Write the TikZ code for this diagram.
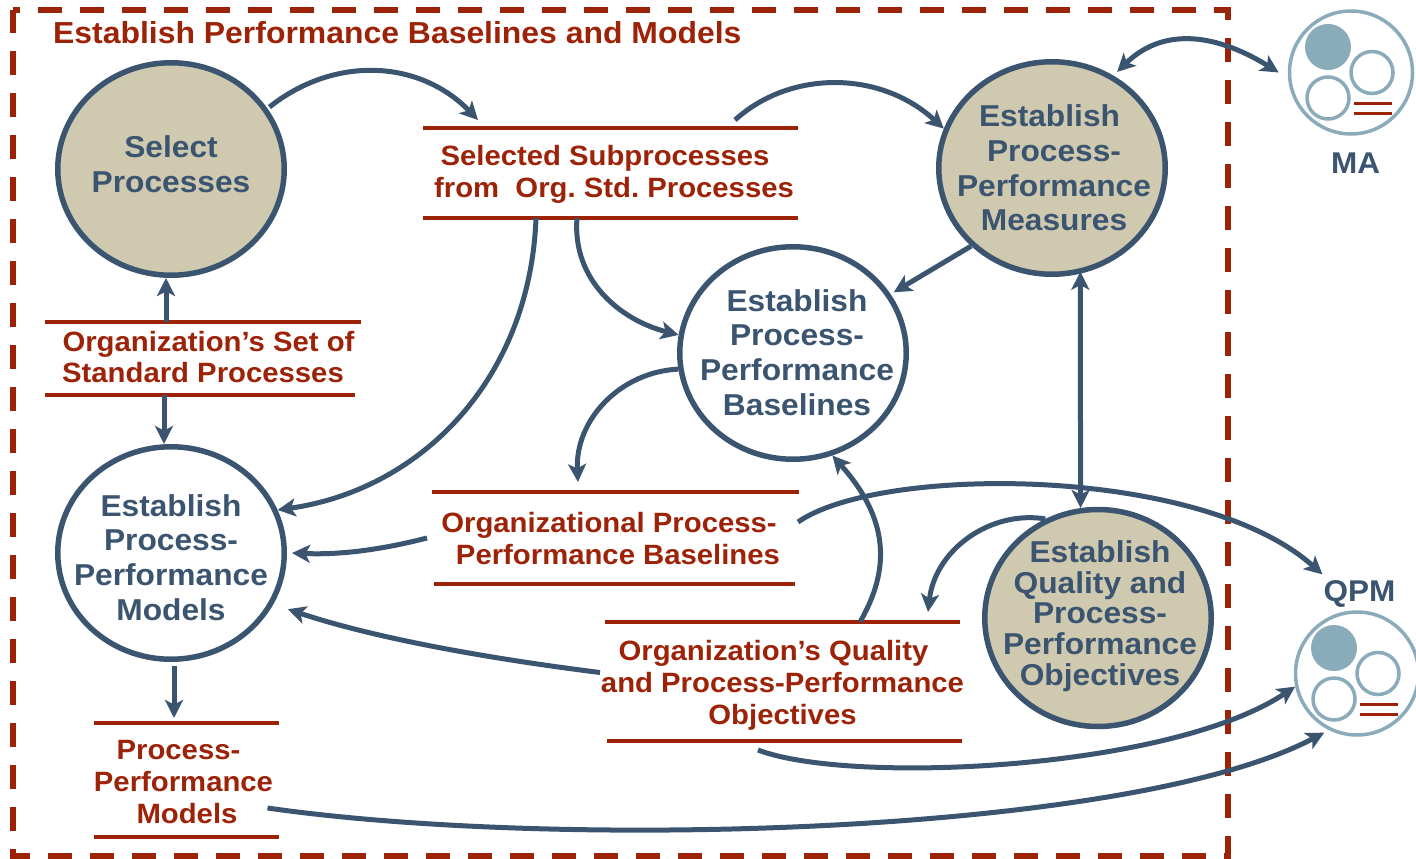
\documentclass[tikz,border=0pt]{standalone}
\usepackage{fontspec}
\setmainfont[FakeStretch=1.05]{Liberation Sans}
\usetikzlibrary{arrows.meta,shapes.geometric}
\definecolor{brick}{HTML}{9C2208}
\definecolor{slate}{HTML}{3B5570}
\definecolor{tan}{HTML}{CFC9AF}
\definecolor{pale}{HTML}{8AACBA}
\tikzset{
  x=1pt,y=-1pt,
  frameline/.style={brick,line width=6pt,dash pattern=on 24pt off 18pt,dash phase=17pt},
  bar/.style={brick,line width=4.5pt},
  rule/.style={brick,line width=3pt},
  flow/.style={slate,line width=5pt,-{Stealth[length=18pt,width=18pt,inset=4.5pt]}},
  twoway/.style={slate,line width=5pt,{Stealth[length=18pt,width=18pt,inset=4.5pt]}-{Stealth[length=18pt,width=18pt,inset=4.5pt]}},
  proc/.style={ellipse,draw=slate,line width=5.5pt,inner sep=0pt,minimum width=226.5pt,minimum height=212.5pt},
  done/.style={proc,fill=tan},
  open/.style={proc,fill=white},
  storebox/.style={rectangle,inner sep=0pt,outer sep=0pt},
  storetext/.style={brick,align=center,inner sep=0pt,font=\bfseries\frenchspacing\fontsize{27.9}{32}\selectfont},
  proctext/.style={slate,align=center,inner sep=0pt,font=\bfseries\fontsize{30.2}{34.7}\selectfont},
  big/.style={circle,draw=pale,line width=3.5pt,fill=white,inner sep=0pt,minimum size=123pt},
  small/.style={circle,draw=pale,line width=3.5pt,inner sep=0pt,minimum size=42pt},
  smallfull/.style={circle,fill=pale,inner sep=0pt,minimum size=46pt},
}
\begin{document}
\begin{tikzpicture}
\useasboundingbox (0,0) rectangle (1416,859);
% dashed frame
\coordinate (fa) at (13,10);
\coordinate (fb) at (1228,10);
\coordinate (fc) at (1228,856);
\coordinate (fd) at (13,856);
\draw[frameline] (fa) -- (fb) -- (fc) -- (fd) -- (fa);
\node[brick,anchor=base west,inner sep=0pt,font=\bfseries\fontsize{30.4}{36}\selectfont] (title) at (53,44) {Establish Performance Baselines and Models};

% process circles
\node[done] (select) at (171,169) {};
\node[proctext] (selectt) at (171,164.5) {Select\\Processes};
\node[done] (measures) at (1052,168) {};
\node[proctext] (measurest) at (1054,168) {Establish\hspace*{9pt}\\Process-\hspace*{15pt}\\Performance\\Measures};
\node[open] (baselines) at (793,353) {};
\node[proctext] (baselinest) at (797,352.5) {Establish\\Process-\\Performance\\Baselines};
\node[open] (models) at (171,553) {};
\node[proctext] (modelst) at (171,557.5) {Establish\\Process-\\Performance\\Models};
\node[done,minimum height=217pt] (objectives) at (1098,618) {};
\node[proctext,font=\bfseries\fontsize{30.2}{30.7}\selectfont] (objectivest) at (1100,616) {Establish\\Quality and\\Process-\\Performance\\Objectives};

% stores
\node[storebox,minimum width=375pt,minimum height=90pt] (sel) at (610.5,173) {};
\node[storetext] (selt) at (614,174) {Selected Subprocesses\hspace*{18pt}\\from\ \ Org. Std. Processes};
\node[storebox,minimum width=313pt,minimum height=73pt] (org) at (201.5,358.5) {};
\node[storetext,font=\bfseries\frenchspacing\fontsize{27.9}{31}\selectfont] (orgt) at (208.5,357) {Organization’s Set of\\Standard Processes\hspace*{11pt}};
\node[storebox,minimum width=364pt,minimum height=92pt] (obl) at (615,538) {};
\node[storetext] (oblt) at (613.5,538.5) {Organizational Process-\hspace*{9pt}\\\hspace*{9pt}Performance Baselines};
\node[storebox,minimum width=355pt,minimum height=119pt] (oqp) at (783.5,681.5) {};
\node[storetext] (oqpt) at (782.5,685) {Organization’s Quality\hspace*{18pt}\\and Process-Performance\\Objectives};
\node[storebox,minimum width=185pt,minimum height=114pt] (ppm) at (186,780) {};
\node[storetext] (ppmt) at (183.5,782) {Process-\hspace*{10pt}\\Performance\\\hspace*{7pt}Models};

\draw[bar] (sel.north west) -- (sel.north east);
\draw[bar] (sel.south west) -- (sel.south east);
\draw[bar] (org.north west) -- ([xshift=3pt]org.north east);
\draw[bar] (org.south west) -- ([xshift=-3pt]org.south east);
\draw[bar] ([xshift=-1pt]obl.north west) -- ([xshift=2pt]obl.north east);
\draw[bar] ([xshift=1pt]obl.south west) -- ([xshift=-2pt]obl.south east);
\draw[bar] ([xshift=-1pt]oqp.north west) -- ([xshift=-1pt]oqp.north east);
\draw[bar] ([xshift=1pt]oqp.south west) -- ([xshift=1pt]oqp.south east);
\draw[bar] (ppm.north west) -- (ppm.north east);
\draw[bar] (ppm.south west) -- (ppm.south east);

% MA group
\node[big] (ma) at (1351,72.5) {};
\node[smallfull] (maa) at (1328,47) {};
\node[small] (mab) at (1372,72.5) {};
\node[small] (mac) at (1328,98) {};
\coordinate (mal1a) at (1354,103); \coordinate (mal1b) at (1392,103);
\coordinate (mal2a) at (1354,113); \coordinate (mal2b) at (1392,113);
\draw[rule] (mal1a) -- (mal1b);
\draw[rule] (mal2a) -- (mal2b);
\node[proctext,font=\bfseries\fontsize{30}{34}\selectfont] (malab) at (1355.5,163) {MA};

% QPM group
\node[big] (qpm) at (1357,673.5) {};
\node[smallfull] (qpma) at (1334,648) {};
\node[small] (qpmb) at (1378,673.5) {};
\node[small] (qpmc) at (1334,699) {};
\coordinate (qal1a) at (1360,704); \coordinate (qal1b) at (1398,704);
\coordinate (qal2a) at (1360,714); \coordinate (qal2b) at (1398,714);
\draw[rule] (qal1a) -- (qal1b);
\draw[rule] (qal2a) -- (qal2b);
\node[proctext,font=\bfseries\fontsize{30}{34}\selectfont] (qpmlab) at (1359.5,594) {QPM};

% connectors
\draw[flow] ([xshift=3pt]select.33) .. controls (335,55) and (420,60) .. ([xshift=55pt,yshift=8pt]sel.north west);
\draw[flow] ([xshift=-63pt,yshift=8pt]sel.north east) .. controls (790,70) and (880,70) .. (measures.160);
\draw[twoway] ([xshift=3pt,yshift=4pt]measures.56) .. controls (1160,30) and (1210,30) .. ([xshift=-9pt]ma.west);
\draw[flow] (measures.224) -- ([xshift=3pt,yshift=2pt]baselines.31);
\draw[twoway] ([yshift=2pt]measures.-75) -- (objectives.99);
\draw[flow] ([xshift=154pt]sel.south west) .. controls (572,280) and (620,320) .. (baselines.171);
\draw[flow] ([xshift=113pt]sel.south west) .. controls (530,380) and (420,490) .. (models.22);
\draw[flow] (baselines.188) .. controls (620,372) and (575,420) .. ([xshift=145pt,yshift=10pt]obl.north west);
\draw[flow] ([xshift=121pt]org.north west) -- ([xshift=-5pt]select.south);
\draw[flow] ([xshift=119pt]org.south west) -- ([xshift=-7pt]models.north);
\draw[flow] ([xshift=-6pt]obl.west) .. controls (380,550) and (340,555) .. ([xshift=5pt]models.east);
\draw[flow] ([xshift=1pt,yshift=-30pt]obl.north east) .. controls (880,465) and (1200,465) .. ([xshift=-1pt,yshift=6pt]qpmlab.north west);
\draw[flow] ([xshift=254pt]oqp.north west) .. controls (890,570) and (890,520) .. (baselines.-69);
\draw[flow] (objectives.118) .. controls (990,510) and (935,550) .. ([xshift=322pt,yshift=10pt]oqp.north west);
\draw[flow] ([xshift=-6pt,yshift=9pt]oqp.west) .. controls (500,660) and (380,640) .. ([xshift=14pt,yshift=-6pt]models.-26);
\draw[flow] ([xshift=152pt,yshift=-9pt]oqp.south west) .. controls (850,785) and (1170,770) .. (qpm.192);
\draw[flow] ([xshift=-11pt,yshift=-28pt]ppm.east) .. controls (560,850) and (1130,835) .. ([xshift=7pt,yshift=-10pt]qpm.231);
\draw[flow] ([xshift=3pt,yshift=-4pt]models.south) -- ([xshift=-12pt,yshift=5pt]ppm.north);
\end{tikzpicture}
\end{document}
